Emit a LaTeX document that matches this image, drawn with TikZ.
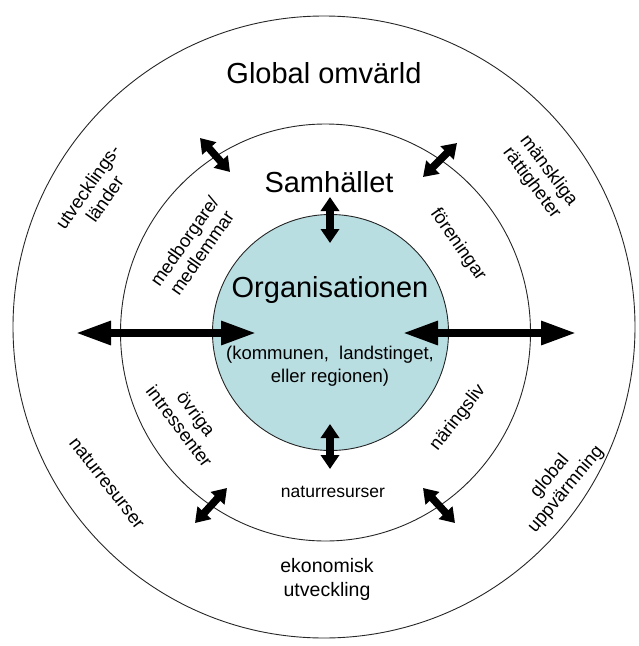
\documentclass[tikz,border=0pt]{standalone}
\usepackage{fontspec}
\setmainfont{Liberation Sans}
\usepackage{tikz}
\usetikzlibrary{arrows.meta}
\definecolor{orgfill}{HTML}{B9DEE2}
\definecolor{ringline}{HTML}{262626}

\begin{document}
\begin{tikzpicture}[x=1pt, y=1pt, line join=round,
  ring/.style={draw=ringline, line width=0.9},
  bigarrow/.style={line width=8.5, >={Triangle[length=36pt, width=22pt]}, <->},
  smallarrow/.style={line width=7.5, >={Triangle[length=14pt, width=18pt]}, <->},
  headtext/.style={font=\fontsize{29}{34}\selectfont},
  subtext/.style={font=\fontsize{18.5}{23}\selectfont, align=center},
  sidetext/.style={font=\fontsize{18.5}{21}\selectfont, align=center}]
  \useasboundingbox (0,0) rectangle (639,-646);
  % rings
  \draw[ring] (324,-327) circle (311);
  \draw[ring] (325.5,-332.5) ellipse [x radius=205, y radius=208.5];
  \filldraw[ring, fill=orgfill] (330.5,-332.5) circle (118);
  % arrow ends
  \coordinate (wl) at (75,-333);   \coordinate (wr) at (257,-333);
  \coordinate (el) at (402,-333);  \coordinate (er) at (577,-333);
  \coordinate (nt) at (330,-197);  \coordinate (nb) at (330,-243);
  \coordinate (st) at (330,-424);  \coordinate (sb) at (330,-469);
  \coordinate (nwo) at (200,-138); \coordinate (nwi) at (230,-172);
  \coordinate (neo) at (457,-143); \coordinate (nei) at (423,-177);
  \coordinate (swo) at (195,-523); \coordinate (swi) at (227,-488);
  \coordinate (seo) at (455,-523); \coordinate (sei) at (423,-488);
  % arrows
  \draw[bigarrow] (wl) -- (wr);
  \draw[bigarrow] (el) -- (er);
  \draw[smallarrow] (nt) -- (nb);
  \draw[smallarrow] (st) -- (sb);
  \draw[smallarrow] (nwo) -- (nwi);
  \draw[smallarrow] (neo) -- (nei);
  \draw[smallarrow] (swo) -- (swi);
  \draw[smallarrow] (seo) -- (sei);
  % centre texts
  \node[headtext] (world) at (324,-73) {Global omvärld};
  \node[headtext] (society) at (329,-182) {Samhället};
  \node[headtext] (org) at (330,-290) {Organisationen};
  \node[subtext] (orgsub) at (330,-366) {(kommunen,\ \ landstinget,\\eller regionen)};
  \node[font=\fontsize{17.5}{20}\selectfont] (resin) at (333,-492) {naturresurser};
  \node[subtext, font=\fontsize{19.5}{24}\selectfont] (econ) at (327,-579) {ekonomisk\\utveckling};
  % ring texts
  \node[sidetext, rotate=55] (dev) at (96,-193) {utvecklings-\\länder};
  \node[sidetext, rotate=-53] (rights) at (540,-177) {mänskliga\\rättigheter};
  \node[sidetext, rotate=-52] (resout) at (107,-483) {naturresurser};
  \node[sidetext, rotate=50] (warm) at (558,-483) {global\\uppvärmning};
  \node[sidetext, rotate=55] (citizens) at (193,-247) {medborgare/\\medlemmar};
  \node[sidetext, rotate=-55] (assoc) at (458,-245) {föreningar};
  \node[sidetext, rotate=-53] (others) at (188,-420) {övriga\\intressenter};
  \node[sidetext, rotate=52] (trade) at (458,-418) {näringsliv};
\end{tikzpicture}
\end{document}
